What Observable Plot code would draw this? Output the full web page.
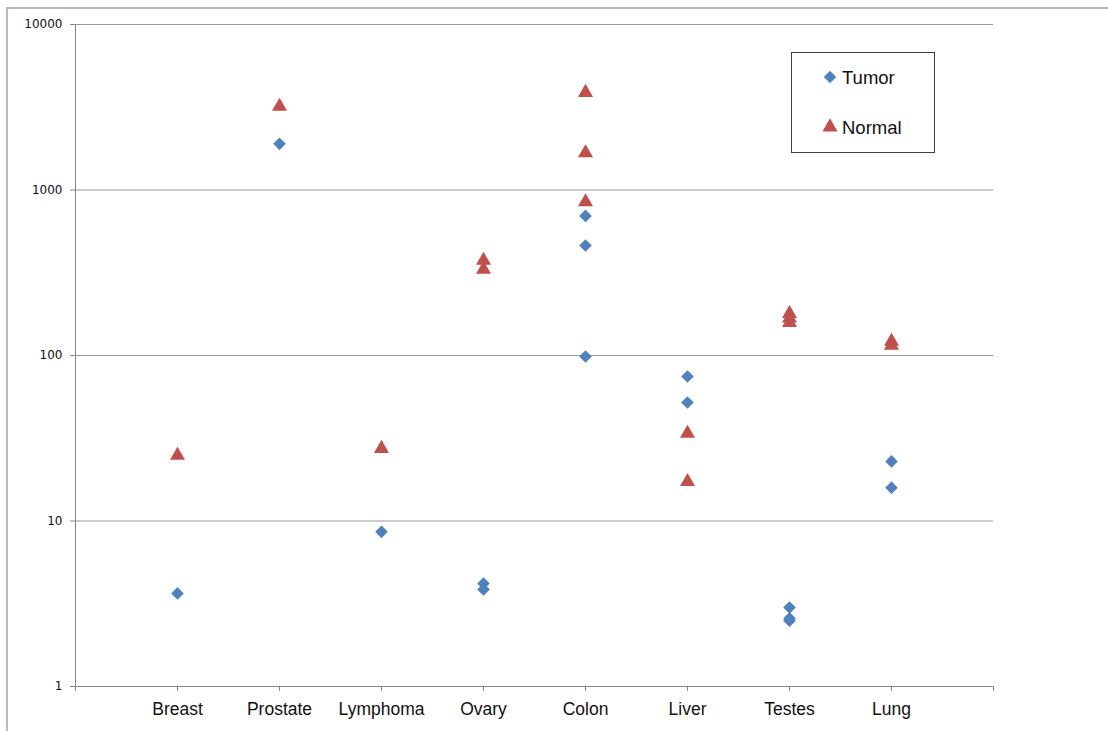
<!DOCTYPE html>
<html><head><meta charset="utf-8">
<script src="https://cdn.jsdelivr.net/npm/d3@7"></script>
<script src="https://cdn.jsdelivr.net/npm/@observablehq/plot@0.6"></script>
<style>
html,body{margin:0;padding:0;background:#fff;}
#wrap{position:relative;width:1108px;height:731px;overflow:hidden;background:#fff;}
#wrap svg.plotsvg{position:absolute;left:0;top:0;}
#frame{position:absolute;left:6px;top:7px;width:1200px;height:800px;border:2px solid #b8b8b8;pointer-events:none;}
#legend{position:absolute;left:791px;top:52px;width:142px;height:99px;border:1px solid #404040;background:#fff;}
</style></head><body>
<div id="wrap"></div>
<script>
const categories = ["Breast","Prostate","Lymphoma","Ovary","Colon","Liver","Testes","Lung"];
const tumorCategory = ["Breast","Prostate","Lymphoma","Ovary","Ovary","Colon","Colon","Colon","Liver","Liver","Testes","Testes","Testes","Lung","Lung"];
const tumorValue    = [3.65, 1900, 8.6, 4.19, 3.86, 697, 462, 98.6, 74.7, 52, 3.0, 2.58, 2.5, 22.9, 15.9];
const normalCategory = ["Breast","Prostate","Lymphoma","Ovary","Ovary","Colon","Colon","Colon","Liver","Liver","Testes","Testes","Testes","Lung","Lung"];
const normalValue    = [24.9, 3200, 27.4, 375, 331, 3880, 1674, 847, 33.8, 17.3, 179, 168, 158, 121.5, 115];
const yTicks = [1, 10, 100, 1000, 10000];
const seriesNames = ["Tumor", "Normal"];
const seriesColors = ["#4F81BD", "#C0504D"];

const tumor = tumorCategory.map((c, i) => ({category: c, value: tumorValue[i]}));
const normal = normalCategory.map((c, i) => ({category: c, value: normalValue[i]}));
const xPos = d => categories.indexOf(d.category) + 1;

const chart = Plot.plot({
  width: 1108,
  height: 731,
  marginLeft: 75,
  marginRight: 115,
  marginTop: 24,
  marginBottom: 45,
  style: {fontFamily: "'Liberation Sans', Arial, sans-serif", background: "transparent", color: "#000"},
  x: {type: "linear", domain: [0, 9], label: null},
  y: {type: "log", domain: [1, 10000], label: null},
  marks: [
    Plot.gridY(yTicks.slice(1), {stroke: "#9a9a9a", strokeOpacity: 1}),
    Plot.ruleX([0], {stroke: "#868686"}),
    Plot.ruleY([1], {stroke: "#868686"}),
    Plot.axisY({ticks: yTicks, tickFormat: d => String(d), tickSize: 5, tickPadding: 8, label: null,
      fontSize: 12, fontFamily: "'DejaVu Sans', Verdana, sans-serif", stroke: "#868686", fill: "#111"}),
    Plot.axisX({ticks: d3.range(0, 10), tickFormat: i => categories[i - 1] ?? "", tickSize: 5, tickPadding: 11, label: null,
      fontSize: 17.5, stroke: "#868686", fill: "#111"}),
    Plot.dot(tumor, {x: xPos, y: "value", symbol: "diamond2", fill: seriesColors[0], r: 5.7}),
    Plot.dot(normal, {x: xPos, y: "value", symbol: "triangle", fill: seriesColors[1], r: 5.6})
  ]
});
chart.classList.add("plotsvg");
const wrap = document.getElementById("wrap");
wrap.appendChild(chart);

const legend = document.createElement("div");
legend.id = "legend";
const ns = "http://www.w3.org/2000/svg";
const lsvg = document.createElementNS(ns, "svg");
lsvg.setAttribute("width", 142); lsvg.setAttribute("height", 99);
const symbols = [d3.symbol(d3.symbolDiamond2, 100)(), d3.symbol(d3.symbolTriangle, 100)()];
seriesNames.forEach((name, i) => {
  const g = document.createElementNS(ns, "g");
  g.setAttribute("transform", `translate(38,${24 + i * 50})`);
  const p = document.createElementNS(ns, "path");
  p.setAttribute("d", symbols[i]); p.setAttribute("fill", seriesColors[i]);
  g.appendChild(p);
  const t = document.createElementNS(ns, "text");
  t.setAttribute("x", 12); t.setAttribute("y", 7);
  t.setAttribute("font-family", "'Liberation Sans', Arial, sans-serif");
  t.setAttribute("font-size", 18.5); t.setAttribute("fill", "#111");
  t.textContent = name;
  g.appendChild(t);
  lsvg.appendChild(g);
});
legend.appendChild(lsvg);
wrap.appendChild(legend);

const frame = document.createElement("div");
frame.id = "frame";
wrap.appendChild(frame);
</script>
</body></html>
